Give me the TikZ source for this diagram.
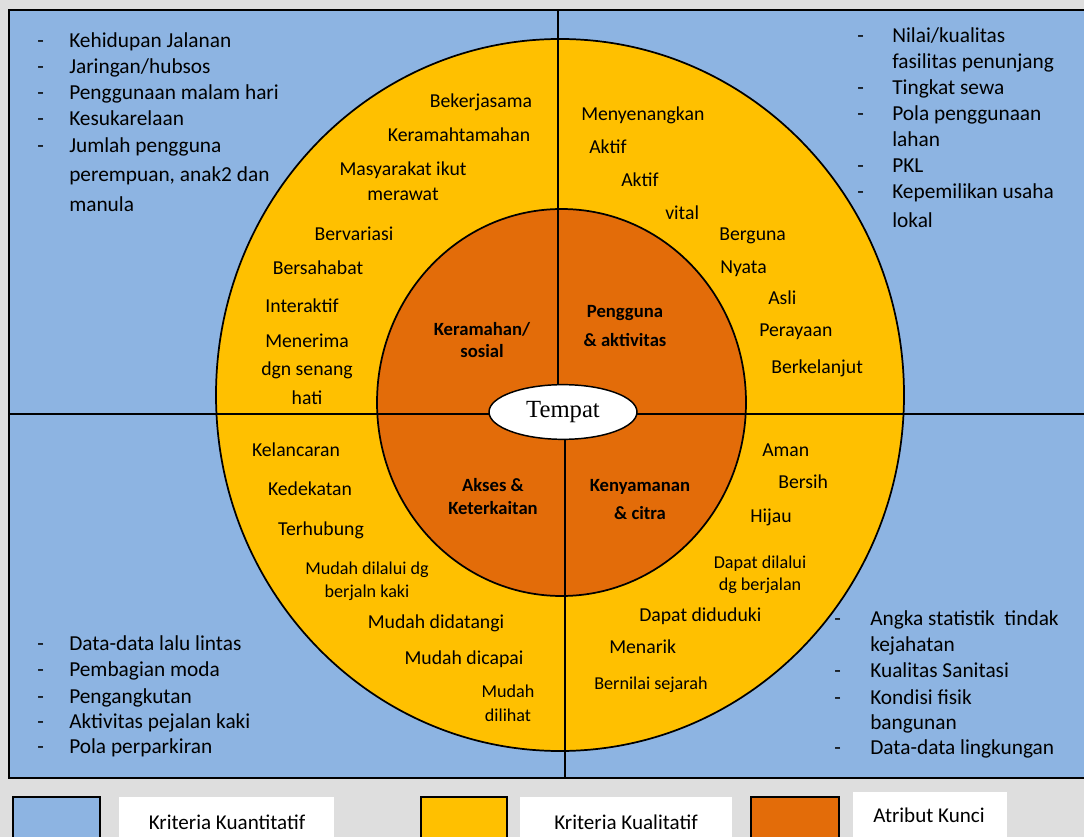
\documentclass[tikz,border=0pt]{standalone}
\usepackage{fontspec}
\setmainfont{Carlito}
\newfontfamily\timesf{Liberation Serif}
\usetikzlibrary{shapes.geometric}
\definecolor{qblue}{HTML}{8DB4E2}
\definecolor{qyel}{HTML}{FFC000}
\definecolor{qora}{HTML}{E36C09}
\definecolor{bggray}{HTML}{DEDEDE}
\begin{document}
\begin{tikzpicture}[x=0.75pt,y=-0.75pt,
  txt/.style={inner sep=0,yshift=-3pt},
  bl/.style={txt,anchor=mid west,font=\fontsize{16}{19}\selectfont},
  rg/.style={txt,anchor=mid,font=\fontsize{14.8}{17}\selectfont},
  rgw/.style={txt,anchor=mid west,font=\fontsize{14.8}{17}\selectfont},
  sm/.style={txt,anchor=mid,font=\fontsize{13.6}{16}\selectfont},
  smw/.style={txt,anchor=mid west,font=\fontsize{13.6}{16}\selectfont},
  keyt/.style={txt,anchor=mid,font=\bfseries\fontsize{14}{16}\selectfont},
  lg/.style={txt,anchor=mid,font=\fontsize{15.8}{18}\selectfont},
  ln/.style={line width=1.3pt},
  lgbox/.style={line width=1pt}
]
\fill[bggray] (0,0) rectangle (1084,837);
\useasboundingbox (0,0) rectangle (1084,837);
% main field
\draw[ln,fill=qblue] (9,10) rectangle (1100,778);
\draw[ln,fill=qyel] (560,395) ellipse [x radius=344, y radius=356];
\draw[ln,fill=qora] (561.5,402.5) ellipse [x radius=184.5, y radius=193.5];
% dividers
\coordinate (hl) at (9,414);
\coordinate (hr) at (1100,414);
\coordinate (vt) at (558,10);
\coordinate (vtc) at (558,412);
\coordinate (vbc) at (565,412);
\coordinate (vb) at (565,778);
\draw[ln] (hl) -- (hr);
\draw[ln] (vt) -- (vtc);
\draw[ln] (vbc) -- (vb);
\node[ellipse,draw,line width=1.1pt,fill=white,minimum width=111pt,minimum height=41pt,inner sep=0,
  font=\timesf\fontsize{18.5}{21}\selectfont] (tempat) at (563,412) {Tempat};

% top-left list
\foreach \yy/\nm in {40/a1,66/a2,92/a3,118/a4,145/a5}{\node[bl] (d\nm) at (37,\yy) {-};}
\node[bl] (tl1) at (69,40) {Kehidupan Jalanan};
\node[bl] (tl2) at (69,66) {Jaringan/hubsos};
\node[bl] (tl3) at (69,92) {Penggunaan malam hari};
\node[bl] (tl4) at (69,118) {Kesukarelaan};
\node[bl] (tl5) at (69,145) {Jumlah pengguna};
\node[bl] (tl6) at (69,174) {perempuan, anak2 dan};
\node[bl] (tl7) at (69,204) {manula};

% top-right list
\foreach \yy/\nm in {35/b1,87/b2,113/b3,165/b4,191/b5}{\node[bl] (e\nm) at (857,\yy) {-};}
\node[bl] (tr1) at (892,35) {Nilai/kualitas};
\node[bl] (tr2) at (892,61) {fasilitas penunjang};
\node[bl] (tr3) at (892,87) {Tingkat sewa};
\node[bl] (tr4) at (892,113) {Pola penggunaan};
\node[bl] (tr5) at (892,139) {lahan};
\node[bl] (tr6) at (892,165) {PKL};
\node[bl] (tr7) at (892,191) {Kepemilikan usaha};
\node[bl] (tr8) at (892,220) {lokal};

% bottom-left list
\foreach \yy/\nm in {643/c1,669/c2,696/c3,721/c4,746/c5}{\node[bl] (f\nm) at (37,\yy) {-};}
\node[bl] (bl1) at (69,643) {Data-data lalu lintas};
\node[bl] (bl2) at (69,669) {Pembagian moda};
\node[bl] (bl3) at (69,696) {Pengangkutan};
\node[bl] (bl4) at (69,721) {Aktivitas pejalan kaki};
\node[bl] (bl5) at (69,746) {Pola perparkiran};

% bottom-right list
\foreach \yy/\nm in {618/g1,670/g2,697/g3,747/g4}{\node[bl] (g\nm) at (834,\yy) {-};}
\node[bl] (br1) at (870,618) {Angka statistik\ \ tindak};
\node[bl] (br2) at (870,644) {kejahatan};
\node[bl] (br3) at (870,670) {Kualitas Sanitasi};
\node[bl] (br4) at (870,697) {Kondisi fisik};
\node[bl] (br5) at (870,722) {bangunan};
\node[bl] (br6) at (870,747) {Data-data lingkungan};

% ring: top-left
\node[rg] (q1) at (481,100) {Bekerjasama};
\node[rg] (q2) at (459,134) {Keramahtamahan};
\node[rg] (q3) at (403,168) {Masyarakat ikut};
\node[rg] (q4) at (403,193) {merawat};
\node[rg] (q5) at (354,233) {Bervariasi};
\node[rg] (q6) at (318,267) {Bersahabat};
\node[rg] (q7) at (302,305) {Interaktif};
\node[rg] (q8) at (307,340) {Menerima};
\node[rg] (q9) at (307,368) {dgn senang};
\node[rg] (q10) at (307,397) {hati};

% ring: top-right
\node[rgw] (r1) at (581,113) {Menyenangkan};
\node[rgw] (r2) at (589,146) {Aktif};
\node[rgw] (r3) at (621,179) {Aktif};
\node[rgw] (r4) at (665,212) {vital};
\node[rgw] (r5) at (719,233) {Berguna};
\node[rgw] (r6) at (720,266) {Nyata};
\node[rgw] (r7) at (768,297) {Asli};
\node[rgw] (r8) at (759,329) {Perayaan};
\node[rgw] (r9) at (771,366) {Berkelanjut};

% ring: bottom-left
\node[rg] (s1) at (296,449) {Kelancaran};
\node[rg] (s2) at (310,488) {Kedekatan};
\node[rg] (s3) at (321,528) {Terhubung};
\node[sm] (s4) at (367,567) {Mudah dilalui dg};
\node[sm] (s5) at (367,590) {berjaln kaki};
\node[rg] (s6) at (436,621) {Mudah didatangi};
\node[rg] (s7) at (464,657) {Mudah dicapai};
\node[sm] (s8) at (508,690) {Mudah};
\node[sm] (s9) at (508,714) {dilihat};

% ring: bottom-right
\node[rgw] (t1) at (762,449) {Aman};
\node[rgw] (t2) at (778,481) {Bersih};
\node[rgw] (t3) at (750,515) {Hijau};
\node[sm] (t4) at (760,561) {Dapat dilalui};
\node[sm] (t5) at (760,583) {dg berjalan};
\node[rgw] (t6) at (639,614) {Dapat diduduki};
\node[rgw] (t7) at (609,646) {Menarik};
\node[smw] (t8) at (594,682) {Bernilai sejarah};

% key attributes
\node[keyt] (k1) at (482,328) {Keramahan/};
\node[keyt] (k2) at (482,350) {sosial};
\node[keyt] (k3) at (625,310) {Pengguna};
\node[keyt] (k4) at (625,339) {\&\ aktivitas};
\node[keyt] (k5) at (493,484) {Akses \&};
\node[keyt] (k6) at (493,507) {Keterkaitan};
\node[keyt] (k7) at (640,484) {Kenyamanan};
\node[keyt] (k8) at (640,512) {\&\ citra};

% legend
\draw[lgbox,fill=qblue] (13,797) rectangle (100,845);
\fill[white] (119,797) rectangle (334,845);
\node[lg] (lg1) at (227,822) {Kriteria Kuantitatif};
\draw[lgbox,fill=qyel] (421,797) rectangle (507,845);
\fill[white] (520,797) rectangle (732,845);
\node[lg] (lg2) at (626,822) {Kriteria Kualitatif};
\draw[lgbox,fill=qora] (751,797) rectangle (839,845);
\fill[white] (853,792) rectangle (1007,845);
\node[lg] (lg3) at (929,815) {Atribut Kunci};
\end{tikzpicture}
\end{document}
